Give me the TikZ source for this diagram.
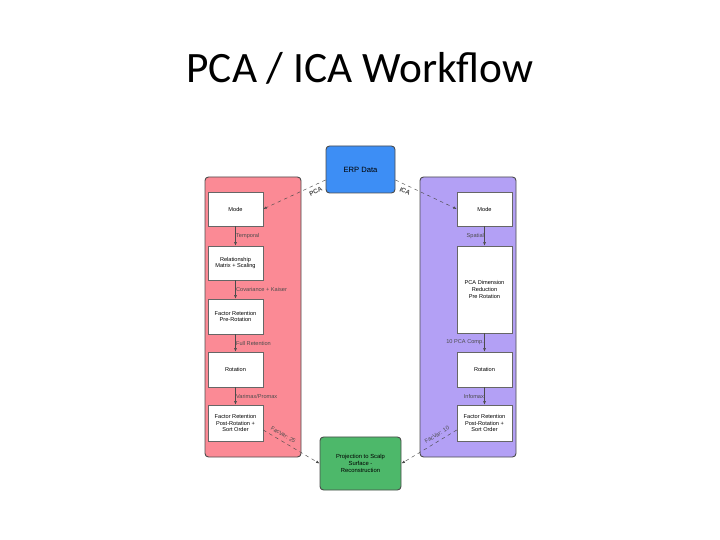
\documentclass[tikz,border=0pt]{standalone}
\usepackage{fontspec}
\setmainfont{Carlito}
\newfontfamily\boxfont{Liberation Sans}
\usetikzlibrary{arrows.meta}
\usetikzlibrary{positioning}
\definecolor{erpblue}{HTML}{3D8EF5}
\definecolor{pcared}{HTML}{FB8A95}
\definecolor{icapurple}{HTML}{B3A0F5}
\definecolor{projgreen}{HTML}{4DB86A}
\begin{document}
\begin{tikzpicture}[x=0.03cm, y=-0.03cm,
					panel/.style={draw=black!70, thick, rounded corners=3pt},
					stage/.style={draw=black!60, fill=white, minimum width=1.65cm, align=center, font=\boxfont\fontsize{4.8}{5.8}\selectfont},
					flow/.style={black!70, -{Latex[length=3pt]}},
					dflow/.style={black!70, dashed, -{Latex[length=3pt]}},
					lbl/.style={font=\boxfont\fontsize{4.8}{5.8}\selectfont},
				]
			        \useasboundingbox (0,0) rectangle (720,540);
			        \node[font=\fontsize{37}{44}\selectfont] (title) at (360,68) {PCA / ICA Workflow};

			        \draw[panel, fill=pcared] (205,177) rectangle (301,457);
			        \draw[panel, fill=icapurple] (420,177) rectangle (516,457);
			        \node[panel, fill=erpblue, minimum width=2.07cm, minimum height=1.41cm, font=\boxfont\fontsize{6.5}{7.5}\selectfont] (erp) at (360.5,169.5) {ERP Data};
			        \node[panel, fill=projgreen, minimum width=2.43cm, minimum height=1.59cm, align=center, font=\boxfont\fontsize{5}{6.2}\selectfont] (proj) at (360.5,463.5) {Projection to Scalp\\Surface -\\Reconstruction};

			        % PCA side
			        \node[stage, minimum height=1.02cm] (pmode) at (235.5,209) {Mode};
			        \node[stage, minimum height=1.02cm] (prel) at (235.5,263) {Relationship\\Matrix + Scaling};
			        \node[stage, minimum height=1.05cm] (ppre) at (235.5,316.5) {Factor Retention\\Pre-Rotation};
			        \node[stage, minimum height=1.05cm] (prot) at (235.5,369.5) {Rotation};
			        \node[stage, minimum height=1.08cm] (ppost) at (235.5,423) {Factor Retention\\Post-Rotation +\\Sort Order};

			        % ICA side
			        \node[stage, minimum height=1.02cm] (imode) at (484.5,209) {Mode};
			        \node[stage, minimum height=2.61cm] (idim) at (484.5,289.5) {PCA Dimension\\Reduction\\Pre Rotation};
			        \node[stage, minimum height=1.05cm] (irot) at (484.5,369.5) {Rotation};
			        \node[stage, minimum height=1.08cm] (ipost) at (484.5,423) {Factor Retention\\Post-Rotation +\\Sort Order};

			        \draw[flow] (pmode) -- (prel) node[midway, right, lbl, xshift=-3pt] {Temporal};
			        \draw[flow] (prel) -- (ppre) node[midway, right, lbl, xshift=-3pt] {Covariance + Kaiser};
			        \draw[flow] (ppre) -- (prot) node[midway, right, lbl, xshift=-3pt] {Full Retention};
			        \draw[flow] (prot) -- (ppost) node[midway, right, lbl, xshift=-3pt] {Varimax/Promax};

			        \draw[flow] (imode) -- (idim) node[midway, left, lbl, xshift=3pt] {Spatial};
			        \draw[flow] (idim) -- (irot) node[midway, left, lbl, xshift=3pt] {10 PCA Comp.};
			        \draw[flow] (irot) -- (ipost) node[midway, left, lbl, xshift=3pt] {Infomax};

			        \draw[dflow] (erp.west |- 0,180) -- (pmode.east) node[pos=0.2, below, lbl, sloped, font=\boxfont\bfseries\fontsize{5.5}{6.5}\selectfont] {PCA};
			        \draw[dflow] (erp.east |- 0,180) -- (imode.west) node[pos=0.2, below, lbl, sloped, font=\boxfont\bfseries\fontsize{5.5}{6.5}\selectfont] {ICA};
			        \draw[dflow] (ppost.east |- 0,430) -- (proj.west) node[pos=0.3, above, lbl, sloped] {FacVar: 25};
			        \draw[dflow] (ipost.west |- 0,430) -- (proj.east) node[pos=0.3, above, lbl, sloped] {FacVar: 10};
			    \end{tikzpicture}
\end{document}
